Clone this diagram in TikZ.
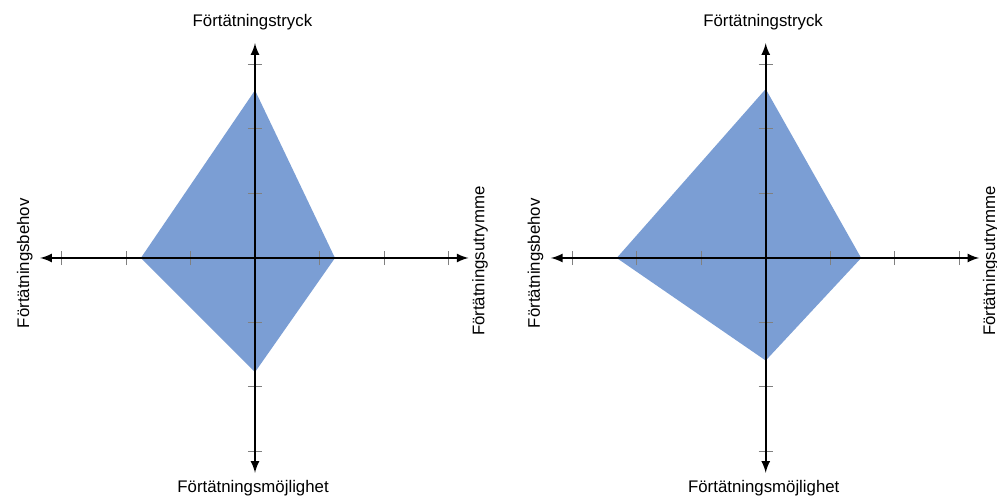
\documentclass[tikz,border=0pt]{standalone}
\usepackage{fontspec}
\setmainfont{Liberation Sans}
\usetikzlibrary{calc,positioning}

\definecolor{areablue}{RGB}{123,158,212}
\tikzset{
  axis/.style={line width=1pt,latex-latex},
  tickmark/.style={gray,line width=0.5pt},
  area/.style={fill=areablue,draw=none},
  axislabel/.style={font=\fontsize{8.4}{10}\selectfont,inner sep=0pt}
}

\begin{document}
\begin{tikzpicture}[x=0.5pt,y=0.5pt]
\useasboundingbox (0,0) rectangle (997,497);
% left chart
\begin{scope}[shift={(255,239)},x=32.25pt,y=32.25pt]
\fill[area] (0,2.6) -- (1.24,0) -- (0,-1.77) -- (-1.77,0) -- cycle;
\foreach \t in {-3,-2,-1,1,2,3} {
  \draw[tickmark] (\t,-0.11) -- (\t,0.11);
  \draw[tickmark] (-0.11,\t) -- (0.11,\t);
}
\coordinate (AxisWestA) at (-3.33,0);
\coordinate (AxisEastA) at (3.31,0);
\coordinate (AxisNorthA) at (0,3.33);
\coordinate (AxisSouthA) at (0,-3.33);
\draw[axis] (AxisWestA) -- (AxisEastA);
\draw[axis] (AxisSouthA) -- (AxisNorthA);
\node[axislabel] (PressureA) at (-0.04,3.66) {Förtätningstryck};
\node[axislabel] (PossibilityA) at (-0.03,-3.57) {Förtätningsmöjlighet};
\node[axislabel,rotate=90] (NeedA) at (-3.57,-0.08) {Förtätningsbehov};
\node[axislabel,rotate=90] (SpaceA) at (3.49,-0.05) {Förtätningsutrymme};
\end{scope}
% right chart
\begin{scope}[shift={(765.7,239)},x=32.25pt,y=32.25pt]
\fill[area] (0,2.62) -- (1.48,0) -- (0,-1.59) -- (-2.31,0) -- cycle;
\foreach \t in {-3,-2,-1,1,2,3} {
  \draw[tickmark] (\t,-0.11) -- (\t,0.11);
  \draw[tickmark] (-0.11,\t) -- (0.11,\t);
}
\coordinate (AxisWestB) at (-3.33,0);
\coordinate (AxisEastB) at (3.31,0);
\coordinate (AxisNorthB) at (0,3.33);
\coordinate (AxisSouthB) at (0,-3.33);
\draw[axis] (AxisWestB) -- (AxisEastB);
\draw[axis] (AxisSouthB) -- (AxisNorthB);
\node[axislabel] (PressureB) at (-0.04,3.66) {Förtätningstryck};
\node[axislabel] (PossibilityB) at (-0.03,-3.57) {Förtätningsmöjlighet};
\node[axislabel,rotate=90] (NeedB) at (-3.57,-0.08) {Förtätningsbehov};
\node[axislabel,rotate=90] (SpaceB) at (3.49,-0.05) {Förtätningsutrymme};
\end{scope}
\end{tikzpicture}
\end{document}
